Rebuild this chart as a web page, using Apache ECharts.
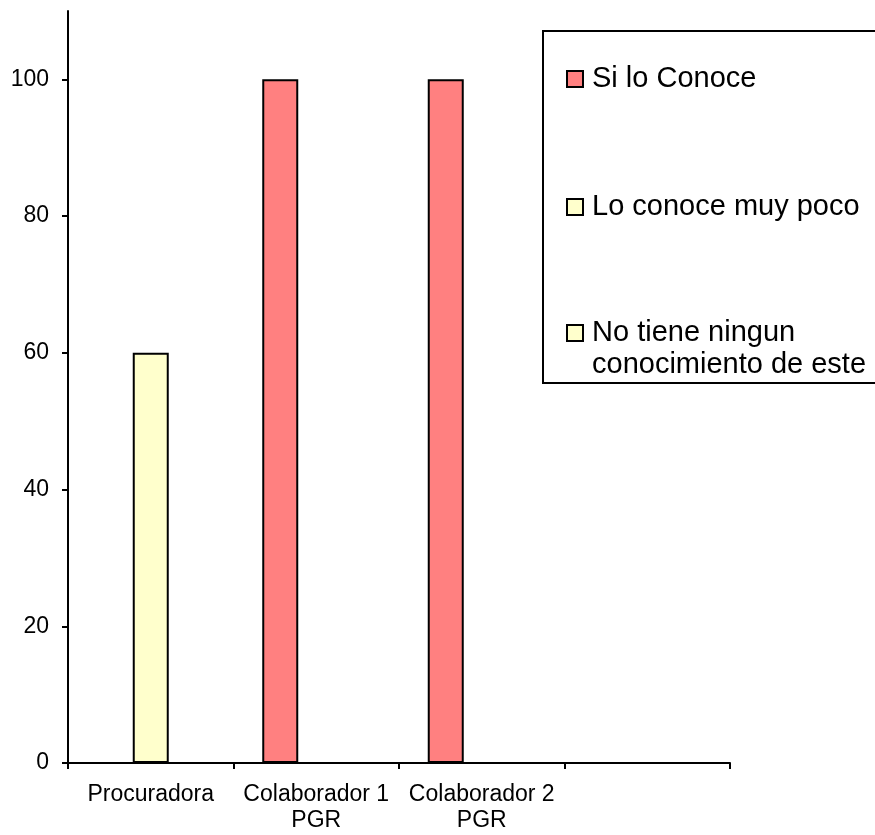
<!DOCTYPE html>
<html>
<head>
<meta charset="utf-8">
<script src="https://cdn.jsdelivr.net/npm/echarts@6/dist/echarts.min.js"></script>
<style>html,body{margin:0;padding:0;background:#fff;}#c{width:875px;height:835px;}</style>
</head>
<body>
<div id="c"></div>
<script>
const categories = ['Procuradora', 'Colaborador 1\nPGR', 'Colaborador 2\nPGR', ''];
const siLoConoce = [null, 100, 100, null];
const loConoceMuyPoco = [60, null, null, null];
const noTieneNingun = [null, null, null, null];
const seriesNames = ['Si lo Conoce', 'Lo conoce muy poco', 'No tiene ningun conocimiento de este'];
const yTicks = [0, 20, 40, 60, 80, 100];

const FONT = '"Liberation Sans", Arial, sans-serif';
const chart = echarts.init(document.getElementById('c'));

function legendAt(name, top, formatter) {
  return {
    data: [name],
    orient: 'vertical',
    left: 566,
    top: top,
    padding: 0,
    itemWidth: 16,
    itemHeight: 16,
    icon: 'rect',
    itemStyle: { borderColor: '#000', borderWidth: 2 },
    formatter: formatter,
    textStyle: { fontFamily: FONT, fontSize: 29, color: '#000', lineHeight: 32, padding: [0, 0, 0, 4] }
  };
}

chart.setOption({
  animation: false,
  backgroundColor: '#fff',
  grid: { left: 68, right: 145, top: 11, bottom: 72, containLabel: false },
  graphic: [{
    type: 'rect', z: 0,
    shape: { x: 543, y: 31, width: 400, height: 352 },
    style: { fill: '#fff', stroke: '#000', lineWidth: 2 }
  }],
  legend: [
    legendAt(seriesNames[0], 63),
    legendAt(seriesNames[1], 191),
    legendAt(seriesNames[2], 285, function () { return '\u00a0\nNo tiene ningun\nconocimiento de este'; })
  ],
  xAxis: {
    type: 'category',
    data: categories,
    axisLine: { show: true, lineStyle: { color: '#000', width: 2 } },
    axisTick: { show: true, interval: 0, length: 6, lineStyle: { color: '#000', width: 2 } },
    axisLabel: { interval: 0, margin: 19, fontFamily: FONT, fontSize: 23, color: '#000', lineHeight: 26 },
    splitLine: { show: false }
  },
  yAxis: {
    type: 'value',
    min: 0, max: 110, interval: 20,
    axisLine: { show: true, lineStyle: { color: '#000', width: 2 } },
    axisTick: { show: true, length: 6, lineStyle: { color: '#000', width: 2 } },
    axisLabel: {
      margin: 19, fontFamily: FONT, fontSize: 23, color: '#000', showMaxLabel: false,
      formatter: function (v) { return yTicks.indexOf(v) >= 0 ? String(v) : ''; }
    },
    splitLine: { show: false }
  },
  series: [
    { name: seriesNames[0], type: 'bar', data: siLoConoce, barWidth: 36, barGap: '0%',
      itemStyle: { color: '#FF8080', borderColor: '#000', borderWidth: 2 } },
    { name: seriesNames[1], type: 'bar', data: loConoceMuyPoco, barWidth: 36, barGap: '0%',
      itemStyle: { color: '#FFFFCC', borderColor: '#000', borderWidth: 2 } },
    { name: seriesNames[2], type: 'bar', data: noTieneNingun, barWidth: 36, barGap: '0%',
      itemStyle: { color: '#FFFFCC', borderColor: '#000', borderWidth: 2 } }
  ]
});
</script>
</body>
</html>
